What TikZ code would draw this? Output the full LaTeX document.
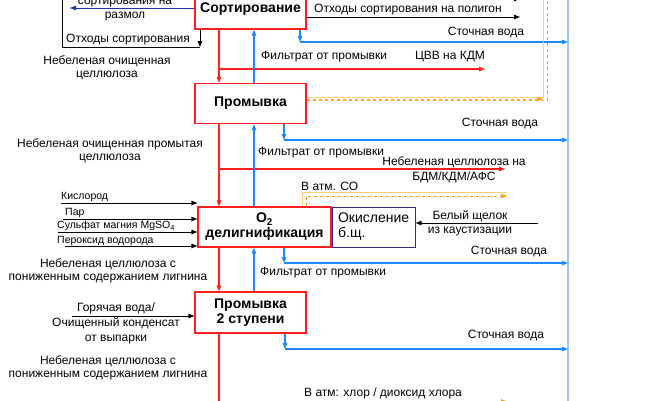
\documentclass[tikz,border=0pt]{standalone}
\usepackage{fontspec}
\setmainfont{Liberation Sans}
\usetikzlibrary{positioning,arrows.meta}
\definecolor{procred}{RGB}{255,30,30}
\definecolor{waterblue}{RGB}{30,136,255}
\definecolor{busblue}{RGB}{150,200,255}
\definecolor{gasorange}{RGB}{255,160,20}
\definecolor{gaslight}{RGB}{255,205,130}
\definecolor{oxnavy}{RGB}{60,40,130}
\definecolor{refnavy}{RGB}{30,50,170}
\begin{document}
\begin{tikzpicture}[x=1pt, y=-1pt, font=\fontsize{12}{13}\selectfont, >={Triangle[length=6pt,width=4.5pt]},
	proc/.style={draw=procred, line width=1.3pt, minimum width=111pt, minimum height=40pt, inner sep=0pt, align=center, font=\bfseries\fontsize{14}{15}\selectfont},
	pulpline/.style={draw=procred, line width=1.2pt},
	waterline/.style={draw=waterblue, line width=1.2pt},
	gasline/.style={draw=gaslight, line width=1pt},
	gasdash/.style={draw=gasorange, line width=1pt, dashed},
	small/.style={font=\fontsize{10.5}{12}\selectfont, inner sep=0pt, anchor=west},
	lbl/.style={inner sep=0pt, align=center, font=\fontsize{12}{12.5}\selectfont}]
		\useasboundingbox (0,0) rectangle (656,400);

		\node[proc] (sorting) at (250.5,9) {Сортирование};
		\node[proc] (washing) at (250.5,103.5) {Промывка};
		\node[proc, minimum width=133pt] (delig) at (264.5,227) {O\textsubscript{2}\\делигнификация};
		\node[draw=oxnavy, line width=1pt, minimum width=83pt, minimum height=40pt, inner sep=0pt, align=left, font=\fontsize{14}{15}\selectfont, right=0pt of delig] (oxidation) {Окисление\\б.щ.};
		\node[proc, minimum height=41pt] (washingtwo) at (250.5,312.5) {Промывка\\2 ступени};

		\coordinate (pulp) at (219,0);
		\coordinate (filtrate) at (254,0);
		\coordinate (bus) at (568,0);
		\coordinate (bustop) at (568,-5);
		\coordinate (busend) at (568,405);
		\draw[busblue, line width=2pt] (bustop) -- (busend);

		\draw[pulpline,->] (sorting.south -| pulp) -- (washing.north -| pulp);
		\draw[pulpline,->] (washing.south -| pulp) -- (delig.north -| pulp);
		\draw[pulpline,->] (delig.south -| pulp) -- (washingtwo.north -| pulp);
		\draw[pulpline] (washingtwo.south -| pulp) -- (pulp |- 0,405);

		\coordinate (kdm) at (485,69);
		\coordinate (bdm) at (505,169);
		\draw[pulpline,->] (kdm -| pulp) -- (kdm);
		\draw[pulpline,->] (bdm -| pulp) -- (bdm);
		\node[lbl] (kdmlabel) at (450,57) {ЦВВ на КДМ};
		\node[lbl, font=\fontsize{12}{15}\selectfont] (bdmlabel) at (454,169.5) {Небеленая целлюлоза на\\БДМ/КДМ/АФС};

		\draw[waterline,->] (washing.north -| filtrate) -- (sorting.south -| filtrate);
		\draw[waterline,->] (delig.north -| filtrate) -- (washing.south -| filtrate);
		\draw[waterline,->] (washingtwo.north -| filtrate) -- (delig.south -| filtrate);
		\node[lbl, anchor=west] (filtrateone) at (261,57) {Фильтрат от промывки};
		\node[lbl, anchor=west] (filtratetwo) at (258,153) {Фильтрат от промывки};
		\node[lbl, anchor=west] (filtratethree) at (260,273) {Фильтрат от промывки};

		\coordinate (sewone) at (300,42);
		\coordinate (sewtwo) at (284,140);
		\coordinate (sewthree) at (284,263);
		\coordinate (sewfour) at (285,349);
		\draw[waterline,->] (sorting.south -| sewone) -- (sewone);
		\draw[waterline,->] (sewone) -- (sewone -| bus);
		\draw[waterline,->] (washing.south -| sewtwo) -- (sewtwo);
		\draw[waterline,->] (sewtwo) -- (sewtwo -| bus);
		\draw[waterline,->] (delig.south -| sewthree) -- (sewthree);
		\draw[waterline,->] (sewthree) -- (sewthree -| bus);
		\draw[waterline,->] (washingtwo.south -| sewfour) -- (sewfour);
		\draw[waterline,->] (sewfour) -- (sewfour -| bus);
		\node[lbl] (sewonelabel) at (486,33) {Сточная вода};
		\node[lbl] (sewtwolabel) at (500,124) {Сточная вода};
		\node[lbl] (sewthreelabel) at (509,251) {Сточная вода};
		\node[lbl] (sewfourlabel) at (506,335) {Сточная вода};

		\coordinate (landfill) at (520,17);
		\coordinate (landfilltop) at (520,-1);
		\draw[line width=1pt,->] (sorting.east |- landfill) -- (landfill);
		\draw[line width=1pt,->] (sorting.east |- landfilltop) -- (landfilltop);
		\node[lbl] (landfilllabel) at (408,10) {Отходы сортирования на полигон};

		\coordinate (refining) at (70,8);
		\draw[refnavy, line width=1pt,->] (sorting.west |- refining) -- (refining);
		\node[lbl, font=\fontsize{12}{14}\selectfont] (refininglabel) at (125,10) {сортирования на\\размол};

		\coordinate (rejects) at (200,47);
		\coordinate (rejectsup) at (62,-5);
		\draw[line width=1pt,->] (sorting.south -| rejects) -- (rejects);
		\draw[line width=1pt] (rejects) -| (rejectsup);
		\node[lbl] (rejectslabel) at (128,40) {Отходы сортирования};

		\node[lbl] (cleanpulp) at (107,68) {Небеленая очищенная\\целлюлоза};
		\node[lbl] (washedpulp) at (110,151) {Небеленая очищенная промытая\\целлюлоза};
		\node[lbl] (delpulp) at (108,271) {Небеленая целлюлоза с\\пониженным содержанием лигнина};
		\node[lbl] (delpulptwo) at (108,368) {Небеленая целлюлоза с\\пониженным содержанием лигнина};

		\coordinate (oxygen) at (61,203);
		\coordinate (steam) at (63,219);
		\coordinate (sulfate) at (58,232);
		\coordinate (peroxide) at (65,246);
		\draw[line width=1pt,->] (oxygen) -- (oxygen -| delig.west);
		\draw[line width=1pt,->] (steam) -- (steam -| delig.west);
		\draw[line width=1pt,->] (sulfate) -- (sulfate -| delig.west);
		\draw[line width=1pt,->] (peroxide) -- (peroxide -| delig.west);
		\node[small] (oxygenlabel) at (61,197) {Кислород};
		\node[small] (steamlabel) at (65,213) {Пар};
		\node[small] (sulfatelabel) at (57,226) {Сульфат магния MgSO\textsubscript{4}};
		\node[small] (peroxidelabel) at (57,241) {Пероксид водорода};

		\coordinate (hotwater) at (72,316);
		\draw[line width=1pt,->] (hotwater) -- (hotwater -| washingtwo.west);
		\node[lbl, font=\fontsize{12}{15}\selectfont] (hotwaterlabel) at (116,323) {Горячая вода/\\Очищенный конденсат\\от выпарки};

		\coordinate (whiteliquor) at (538,223);
		\draw[line width=1pt,->] (whiteliquor) -- (whiteliquor -| oxidation.east);
		\node[lbl, font=\fontsize{12}{14}\selectfont] (whiteliquorlabel) at (470,223) {Белый щелок\\из каустизации};

		\coordinate (co) at (507,192);
		\coordinate (codash) at (507,196);
		\draw[gasline] (delig.north -| 302,0) |- (co);
		\draw[gasdash,->] (delig.north -| 306,0) |- (codash);
		\node[lbl, anchor=west] (colabel) at (301,186) {В атм. СО};

		\coordinate (ventsolid) at (543,-5);
		\coordinate (ventdash) at (547,-5);
		\draw[gasline] (washing.east |- 0,97) -| (ventsolid);
		\draw[gasdash] (washing.east |- 0,100) -| (ventdash);
		\draw[gasdash,->] (washing.east |- 0,99) -- (ventsolid |- 0,99);

		\coordinate (chlorine) at (507,401.5);
		\draw[gasdash,->] (302,401.5) -- (chlorine);
		\node[lbl, anchor=west] (chlorinelabel) at (304,393) {В атм: хлор / диоксид хлора};
	\end{tikzpicture}
\end{document}
